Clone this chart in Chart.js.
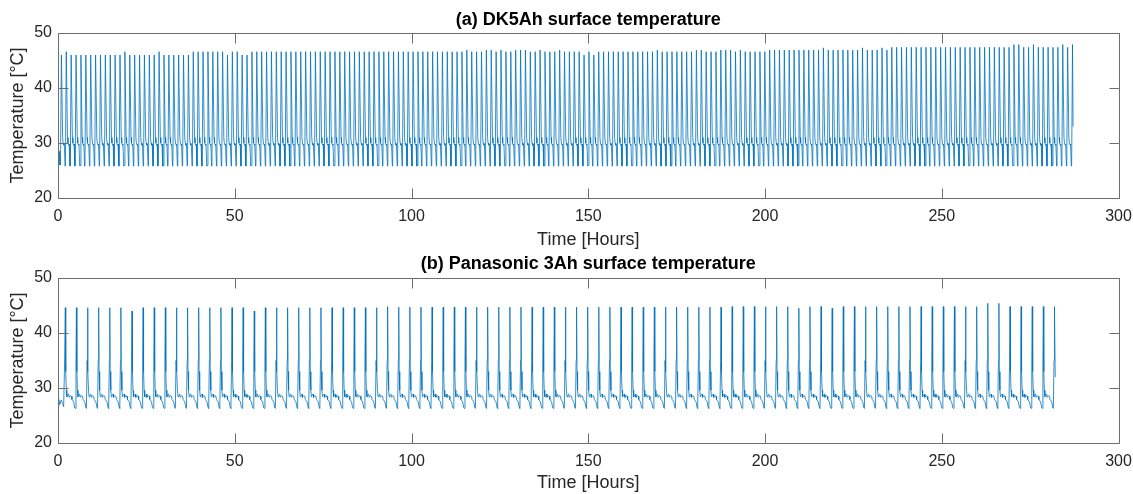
<!DOCTYPE html>
<html>
<head>
<meta charset="utf-8">
<script src="https://cdn.jsdelivr.net/npm/chart.js@4.4.0/dist/chart.umd.min.js"></script>
<style>
  html, body { margin: 0; padding: 0; background: #fff; }
  body { width: 1133px; height: 494px; position: relative; overflow: hidden; }
  canvas { position: absolute; left: 0; }
  #topChart { top: 0; }
  #botChart { top: 247px; }
</style>
</head>
<body>
<canvas id="topChart" width="1133" height="251"></canvas>
<canvas id="botChart" width="1133" height="247"></canvas>
<script>
// axis ticks
const xTicks = [0, 50, 100, 150, 200, 250, 300];
const yTicks = [20, 30, 40, 50];

// (a) DK5Ah: peak temperature of each cycle
const topPeakStart = 0.96;
const topPeriod = 1.3818;
const topPeaks = [
  46.0, 46.6, 46.0, 46.0, 46.0, 46.0, 46.0, 46.0, 46.0, 46.0,
  46.0, 46.0, 46.0, 46.6, 46.0, 46.0, 46.0, 46.0, 46.0, 46.0,
  46.6, 46.0, 46.0, 46.0, 46.0, 46.0, 46.0, 46.6, 46.6, 46.6,
  46.6, 46.6, 46.6, 46.6, 46.0, 46.6, 46.6, 46.0, 46.0, 46.6,
  46.6, 46.6, 46.6, 46.6, 46.6, 46.6, 46.6, 46.6, 46.6, 46.6,
  46.6, 46.6, 46.6, 46.6, 46.6, 46.6, 46.6, 46.6, 46.6, 46.6,
  46.6, 46.6, 46.6, 46.6, 46.6, 46.6, 46.6, 46.6, 46.6, 46.6,
  46.6, 46.6, 46.6, 46.6, 46.6, 46.6, 46.6, 46.6, 46.6, 46.6,
  46.6, 46.6, 46.6, 46.9, 46.6, 46.6, 46.6, 46.9, 46.9, 46.6,
  46.9, 46.6, 46.6, 46.9, 46.9, 46.9, 46.6, 46.6, 46.9, 46.6,
  46.6, 46.6, 46.9, 46.6, 46.6, 46.6, 46.6, 46.0, 46.6, 46.0,
  46.6, 46.6, 46.6, 46.6, 46.6, 46.6, 46.6, 46.6, 46.6, 46.6,
  46.6, 46.6, 46.9, 46.6, 46.6, 46.6, 46.6, 46.6, 46.6, 46.6,
  46.9, 46.9, 46.6, 46.6, 46.6, 46.9, 46.9, 46.9, 46.6, 46.9,
  46.6, 46.6, 46.6, 46.6, 46.6, 46.9, 46.9, 46.9, 46.9, 46.9,
  46.9, 46.9, 46.9, 46.9, 46.9, 46.9, 47.3, 46.9, 46.9, 46.9,
  46.9, 46.9, 46.9, 46.9, 47.3, 46.9, 46.9, 46.9, 47.3, 46.9,
  47.4, 47.4, 47.4, 47.4, 47.4, 47.4, 47.4, 47.4, 47.4, 47.4,
  47.4, 47.4, 47.4, 47.4, 47.4, 47.4, 47.4, 47.4, 47.4, 47.4,
  47.4, 47.4, 47.4, 47.4, 47.4, 47.9, 47.9, 47.4, 47.4, 47.9,
  47.4, 47.4, 47.4, 47.4, 47.4, 47.9, 47.4, 47.9
];
// shape of one cycle after its peak (fraction of period, temperature)
const topCycleFrac = [0.25, 0.35, 0.50, 0.60, 0.75, 0.82];
const topCycleTemp = [31.0, 30.0, 29.6, 29.8, 25.8, 25.9];
const topLeadTime = [0, 0.15, 0.3, 0.45, 0.7];
const topLeadTemp = [25.0, 29.0, 26.0, 28.5, 26.0];
const topTailTime = [287.15];
const topTailTemp = [33.0];

// (b) Panasonic 3Ah
const botPeakStart = 2.07;
const botPeriod = 3.144;
const botPeaks = [
  44.6, 44.6, 44.6, 44.6, 44.6, 44.6, 44.0, 44.6, 44.6, 44.6,
  44.6, 44.6, 44.6, 44.6, 44.6, 44.6, 44.6, 44.0, 44.6, 44.6,
  44.6, 44.6, 44.6, 44.6, 44.6, 44.6, 44.6, 44.6, 44.6, 44.8,
  44.7, 44.7, 44.7, 44.7, 44.7, 44.7, 44.7, 44.7, 44.7, 44.7,
  44.7, 44.7, 44.7, 44.7, 44.7, 44.7, 44.7, 44.7, 44.7, 44.7,
  44.7, 44.7, 44.7, 44.7, 44.7, 44.7, 44.7, 44.7, 44.7, 44.7,
  44.8, 44.8, 44.8, 44.8, 44.8, 44.8, 44.5, 44.8, 44.8, 44.5,
  44.8, 44.8, 44.8, 44.8, 44.8, 44.8, 44.8, 44.8, 44.8, 44.8,
  44.8, 44.8, 44.8, 45.4, 45.4, 44.8, 44.8, 44.8, 44.8, 44.8
];
const botCycleFrac = [0.04, 0.09, 0.14, 0.20, 0.30, 0.34, 0.45, 0.55, 0.60, 0.75, 0.85, 0.90, 0.96];
const botCycleTemp = [33.0, 29.6, 28.4, 28.6, 28.9, 28.3, 28.6, 28.5, 27.9, 27.5, 26.4, 26.3, 35.0];
const botLeadTime = [0, 0.2, 0.5, 0.9, 1.3, 1.6, 1.85];
const botLeadTemp = [26.5, 28.0, 27.0, 27.8, 27.2, 26.6, 34.0];
const botTailTime = [282.1];
const botTailTemp = [32.0];

const FONT = "'Liberation Sans', Arial, Helvetica, sans-serif";
const TICK = 10;

function buildSeries(leadT, leadV, start, period, peaks, frac, temp, tailT, tailV) {
  const pts = [];
  leadT.forEach((t, k) => pts.push({ x: t, y: leadV[k] }));
  peaks.forEach((p, i) => {
    const tp = start + i * period;
    pts.push({ x: tp, y: p });
    if (i < peaks.length - 1) {
      frac.forEach((f, k) => pts.push({ x: tp + f * period, y: temp[k] }));
    }
  });
  tailT.forEach((t, k) => pts.push({ x: t, y: tailV[k] }));
  return pts;
}

// MATLAB style box with inward ticks
const boxPlugin = {
  id: "matlabBox",
  afterDraw(chart) {
    const { ctx, chartArea: a, scales: { x, y } } = chart;
    const l = Math.round(a.left) + 0.5, r = Math.round(a.right) + 0.5;
    const t = Math.round(a.top) + 0.5, b = Math.round(a.bottom) + 0.5;
    ctx.save();
    ctx.strokeStyle = "#6e6e6e";
    ctx.lineWidth = 1;
    ctx.beginPath();
    ctx.rect(l, t, r - l, b - t);
    xTicks.forEach(v => {
      const px = Math.round(x.getPixelForValue(v)) + 0.5;
      ctx.moveTo(px, b); ctx.lineTo(px, b - TICK);
      ctx.moveTo(px, t); ctx.lineTo(px, t + TICK);
    });
    yTicks.forEach(v => {
      const py = Math.round(y.getPixelForValue(v)) + 0.5;
      ctx.moveTo(l, py); ctx.lineTo(l + TICK, py);
      ctx.moveTo(r, py); ctx.lineTo(r - TICK, py);
    });
    ctx.stroke();
    ctx.restore();
  }
};

function makeChart(id, title, titlePad, xHeight, data) {
  return new Chart(document.getElementById(id), {
    type: "line",
    data: {
      datasets: [{
        data: data,
        borderColor: "#0072BD",
        borderWidth: 0.8,
        pointRadius: 0,
        tension: 0,
        fill: false
      }]
    },
    options: {
      responsive: false,
      animation: false,
      devicePixelRatio: 1,
      layout: { padding: { left: 0, right: 14.5, top: 0, bottom: 0 } },
      plugins: {
        legend: { display: false },
        tooltip: { enabled: false },
        title: {
          display: true,
          text: title,
          fullSize: false,
          color: "#000",
          font: { family: FONT, size: 18, weight: "bold" },
          padding: titlePad
        }
      },
      scales: {
        x: {
          type: "linear",
          min: 0,
          max: 300,
          grid: { display: false, drawTicks: false },
          border: { display: false },
          afterBuildTicks: s => { s.ticks = xTicks.map(v => ({ value: v })); },
          afterFit: s => { s.height = xHeight; s.paddingLeft = 0; s.paddingRight = 0; },
          ticks: { color: "#262626", font: { family: FONT, size: 16 }, padding: 9, maxRotation: 0 },
          title: {
            display: true,
            text: "Time [Hours]",
            color: "#262626",
            font: { family: FONT, size: 18 },
            padding: { top: 0, bottom: 0 }
          }
        },
        y: {
          min: 20,
          max: 50,
          grid: { display: false, drawTicks: false },
          border: { display: false },
          afterBuildTicks: s => { s.ticks = yTicks.map(v => ({ value: v })); },
          afterFit: s => { s.width = 58; s.paddingTop = 0; s.paddingBottom = 0; },
          ticks: { color: "#262626", font: { family: FONT, size: 16 }, padding: 6 },
          title: {
            display: true,
            text: "Temperature [°C]",
            color: "#262626",
            font: { family: FONT, size: 18 },
            padding: { top: 7.5, bottom: 0 }
          }
        }
      }
    },
    plugins: [boxPlugin]
  });
}

makeChart("topChart", "(a) DK5Ah surface temperature", { top: 8.9, bottom: 2.5 }, 53,
  buildSeries(topLeadTime, topLeadTemp, topPeakStart, topPeriod, topPeaks,
    topCycleFrac, topCycleTemp, topTailTime, topTailTemp));

makeChart("botChart", "(b) Panasonic 3Ah surface temperature", { top: 6.3, bottom: 3.1 }, 51,
  buildSeries(botLeadTime, botLeadTemp, botPeakStart, botPeriod, botPeaks,
    botCycleFrac, botCycleTemp, botTailTime, botTailTemp));
</script>
</body>
</html>
